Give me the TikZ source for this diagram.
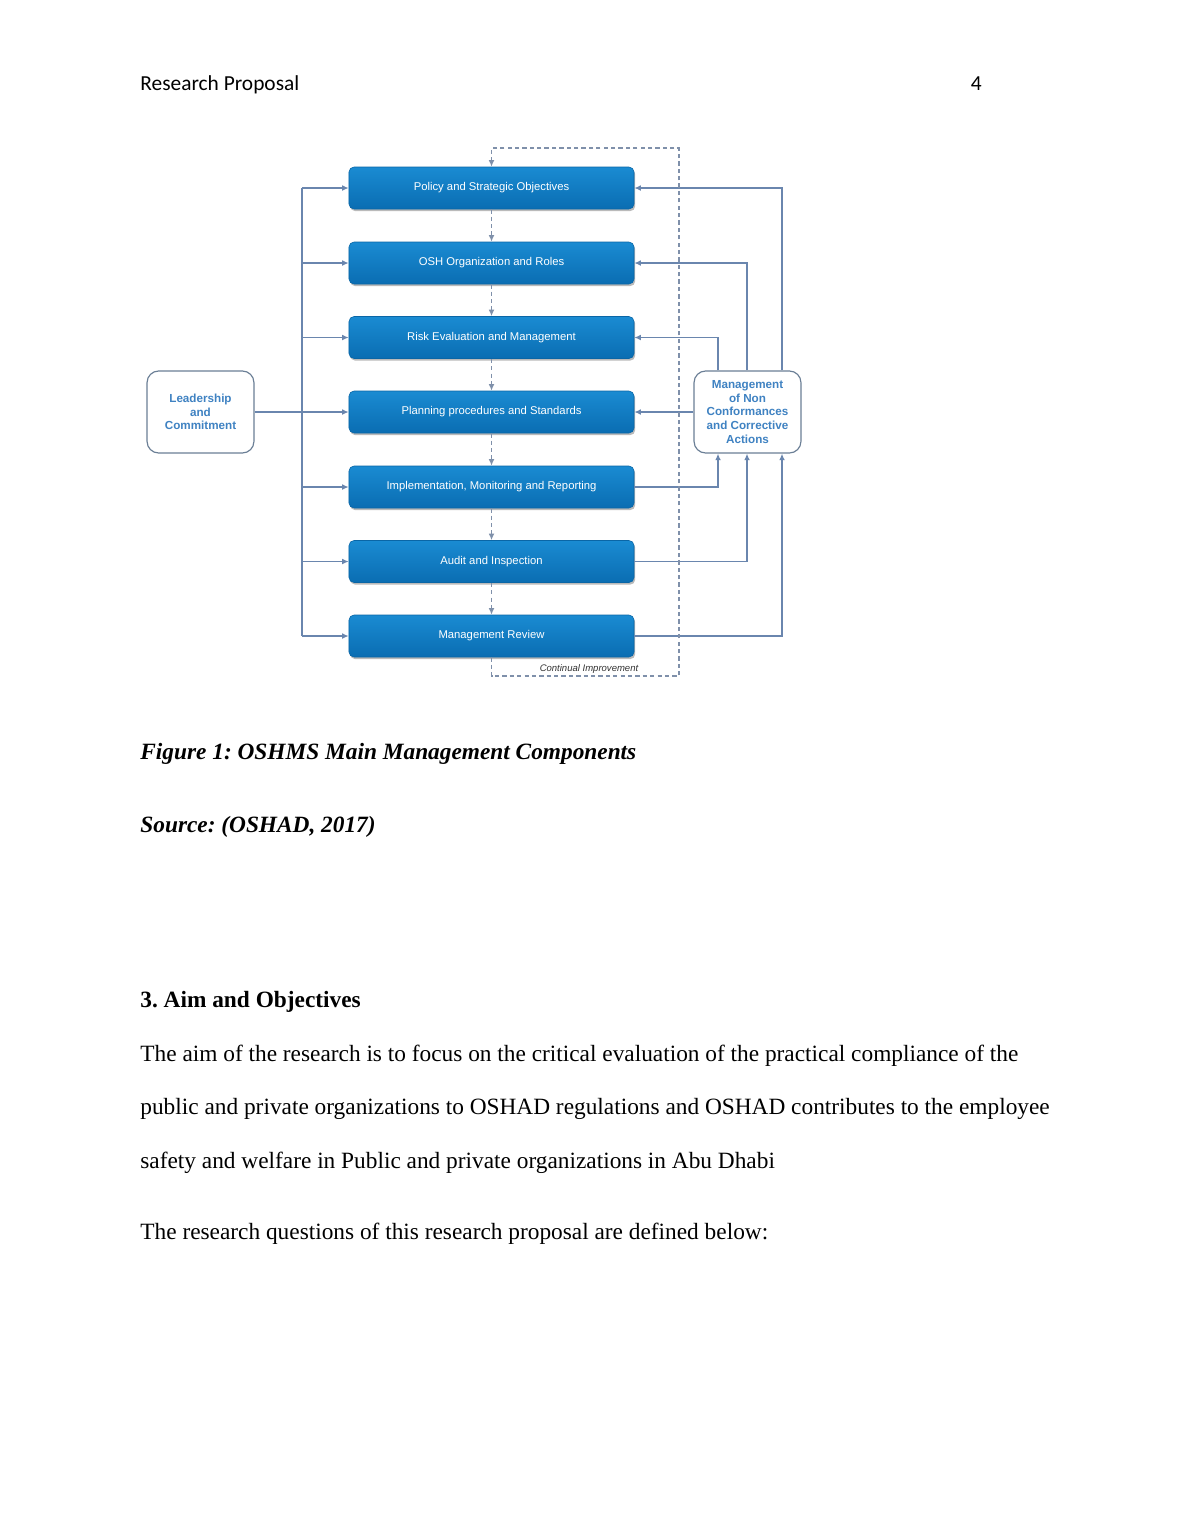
\documentclass[tikz,border=0pt]{standalone}
\usepackage{fontspec}
\setmainfont{Liberation Serif}
\newfontfamily\arialf{Liberation Sans}
\newfontfamily\calib{Carlito}
\usetikzlibrary{arrows.meta,shadows}
\frenchspacing
\definecolor{boxtop}{HTML}{1A8BD2}
\definecolor{boxbot}{HTML}{0A6DB2}
\definecolor{boxedge}{HTML}{0A66A6}
\definecolor{conncol}{HTML}{6A86AE}
\definecolor{dashcol}{HTML}{7F90AA}
\definecolor{outlinecol}{HTML}{6B7F96}
\definecolor{sidetext}{HTML}{3F82C2}
\tikzset{
  bluebox/.style={rectangle, rounded corners=2.6pt, minimum width=146.6pt, minimum height=21.6pt,
    top color=boxtop, bottom color=boxbot, draw=boxedge, line width=0.3pt,
    drop shadow={shadow xshift=0.6pt, shadow yshift=-1.1pt, fill=black!60, opacity=0.45},
    text=white, font=\arialf\fontsize{5.8}{7}\selectfont, inner sep=0pt},
  sidebox/.style={rectangle, rounded corners=6pt, minimum width=55pt, minimum height=42.2pt,
    draw=outlinecol, line width=0.6pt, fill=white, text=sidetext, align=center,
    font=\arialf\bfseries\fontsize{6}{7.1}\selectfont, inner sep=0pt},
  conn/.style={draw=conncol, line width=0.65pt, -{Latex[length=3.4pt,width=3pt]}},
  plainline/.style={draw=conncol, line width=0.65pt},
  dconn/.style={draw=dashcol, line width=0.7pt, dash pattern=on 2.2pt off 1.6pt, -{Latex[length=3.4pt,width=3pt]}},
  bodytext/.style={anchor=base west, inner sep=0pt, font=\fontsize{12}{14}\selectfont},
}
\begin{document}
\begin{tikzpicture}[x=0.5143pt,y=-0.5143pt]
\useasboundingbox[fill=white] (0,0) rectangle (1190,1540);

% header
\node[anchor=base west, inner sep=0pt, font=\calib\fontsize{11}{13}\selectfont] (hdr) at (140,90) {Research Proposal};
\node[anchor=base east, inner sep=0pt, font=\calib\fontsize{11}{13}\selectfont] (pg) at (982,90) {4};

% blue boxes
\node[bluebox] (b1) at (491.5,188) {Policy and Strategic Objectives};
\node[bluebox] (b2) at (491.5,263) {OSH Organization and Roles};
\node[bluebox] (b3) at (491.5,337.5) {Risk Evaluation  and Management};
\node[bluebox] (b4) at (491.5,412) {Planning  procedures and Standards};
\node[bluebox] (b5) at (491.5,487) {Implementation,  Monitoring and Reporting};
\node[bluebox] (b6) at (491.5,561.5) {Audit and Inspection};
\node[bluebox] (b7) at (491.5,636) {Management  Review};

% side boxes
\node[sidebox] (lead) at (200.5,412) {Leadership\\and\\Commitment};
\node[sidebox] (nc) at (747.5,412) {Management\\of Non\\Conformances\\and Corrective\\Actions};

% coordinates
\coordinate (busx) at (302,0);
\coordinate (xA) at (718,0);
\coordinate (xB) at (747,0);
\coordinate (xC) at (782,0);

% left bus
\draw[plainline] (b1.west -| busx) -- (b7.west -| busx);
\foreach \i in {1,2,3,5,6,7}{
  \draw[conn] (b\i.west -| busx) -- (b\i.west);
}
\draw[conn] (lead.east) -- (b4.west);

% right side feedback
\draw[conn] (nc.north -| xC) |- (b1.east);
\draw[conn] (nc.north -| xB) |- (b2.east);
\draw[conn] (nc.north -| xA) |- (b3.east);
\draw[conn] (nc.west) -- (b4.east);
\draw[conn] (b5.east) -| (nc.south -| xA);
\draw[conn] (b6.east) -| (nc.south -| xB);
\draw[conn] (b7.east) -| (nc.south -| xC);

% dashed flow
\foreach \i/\j in {1/2,2/3,3/4,4/5,5/6,6/7}{
  \draw[dconn] (b\i.south) -- (b\j.north);
}
\coordinate (lb) at (491.5,676);
\coordinate (rb) at (679,676);
\coordinate (rt) at (679,148);
\coordinate (lt) at (491.5,148);
\draw[dconn] (b7.south) -- (lb) -- (rb) -- (rt) -- (lt) -- (b1.north);
\node[anchor=base, inner sep=0pt, text=black!80, font=\arialf\itshape\fontsize{4.9}{6}\selectfont] (ci) at (589,671) {Continual Improvement};

% caption and text
\node[bodytext, font=\bfseries\itshape\fontsize{12}{14}\selectfont] (cap) at (140,759) {Figure 1: OSHMS Main Management Components};
\node[bodytext, font=\bfseries\itshape\fontsize{12}{14}\selectfont] (src) at (140,832) {Source: (OSHAD, 2017)};
\node[bodytext, font=\bfseries\fontsize{12}{14}\selectfont] (sec) at (140,1007) {3. Aim and Objectives};
\node[bodytext] (p1) at (140,1061) {The aim of the research is to focus on the critical evaluation of the practical compliance of the};
\node[bodytext] (p2) at (140,1114.5) {public and private organizations to OSHAD regulations and OSHAD contributes to the employee};
\node[bodytext] (p3) at (140,1168) {safety and welfare in Public and private organizations in Abu Dhabi};
\node[bodytext] (p4) at (140,1239) {The research questions of this research proposal are defined below:};
\end{tikzpicture}
\end{document}
